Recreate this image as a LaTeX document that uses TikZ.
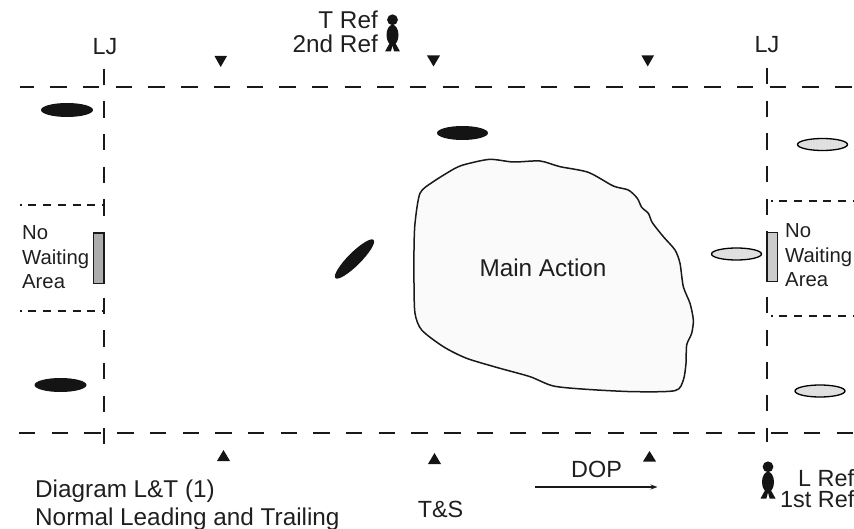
\documentclass[tikz,border=0pt]{standalone}
\usepackage{fontspec}
\setmainfont{Liberation Sans}
\usetikzlibrary{arrows.meta}
\tikzset{
  big/.style={font=\fontsize{24.3}{28}\selectfont,inner sep=0pt,text=black!88,anchor=base west},
  bigr/.style={big,anchor=base east},
  bigc/.style={big,anchor=base},
  mid/.style={font=\fontsize{23.4}{28}\selectfont,inner sep=0pt,text=black!88,anchor=base west},
  midc/.style={mid,anchor=base},
  small/.style={font=\fontsize{20.3}{24}\selectfont,inner sep=0pt,text=black!88,anchor=base west},
  longdash/.style={line width=1.6pt,draw=black!90,dash pattern=on 16.4pt off 16.3pt},
  shortdash/.style={line width=1.5pt,draw=black!90,dash pattern=on 8pt off 6.7pt},
  darkoval/.style={fill=black!92,draw=none},
  greyoval/.style={fill=black!12,draw=black,line width=1.3pt},
  noarea/.style={draw=black!90,line width=1.8pt},
  tri/.style={fill=black!92,draw=none},
  pics/refman/.style={code={
    \fill[black!92] (0,-31.7) circle (5.4);
    \fill[black!92] (0,-16.5) ellipse (6 and 10.2);
    \fill[black!92] (-7.5,0) -- (-2.5,-9) -- (2.5,-9) -- (7.5,0) -- (1.6,0) -- (0,-6) -- (-1.6,0) -- cycle;
  }}
}
\begin{document}
\begin{tikzpicture}[x=1pt,y=-1pt]
\useasboundingbox (0,0) rectangle (854,529);
% boundary lines
\draw[longdash,dash phase=2.4pt] (20,87) -- (854,87);
\draw[longdash,dash phase=0pt,line width=1.5pt] (19,433) -- (854,433);
\draw[longdash] (104,68.7) -- (104,444);
\draw[longdash] (767,68) -- (767,442);
% no waiting lines
\draw[shortdash,dash phase=6.3pt] (20,205) -- (104,205);
\draw[shortdash,dash phase=6.3pt] (20,311) -- (104,311);
\draw[shortdash,dash phase=6.4pt] (771,201) -- (854,201);
\draw[shortdash,dash phase=6.4pt] (771,316) -- (854,316);
% no waiting boxes
\draw[noarea,fill=black!32] (93.5,233) rectangle (104,283.5);
\draw[noarea,fill=black!20] (767,232.5) rectangle (777.5,281.5);
% main action
\begin{scope}[xshift=400pt,yshift=-150pt,x=.33333pt,y=-.33333pt]
\draw[line width=1.5pt,draw=black!90,fill=black!2] plot[smooth cycle,tension=.45] coordinates {
(270,28) (340,36) (420,33) (480,50) (565,67) (640,108) (685,120) (712,145) (725,172) (745,190)
(757,218) (790,260) (825,300) (840,340) (850,410) (870,460) (880,510) (875,550) (860,585) (858,640)
(850,690) (825,722) (700,725) (560,718) (460,708) (390,680) (300,655) (200,625) (130,590) (65,540)
(45,490) (42,400) (42,300) (45,220) (60,130) (100,95) (165,55) (200,42)};
\end{scope}
% players
\fill[darkoval] (67,110) ellipse (26 and 7);
\fill[darkoval] (60.5,385) ellipse (26 and 7);
\fill[darkoval] (462.5,133) ellipse (25.5 and 7);
\fill[darkoval,rotate around={45:(354.5,259)}] (354.5,259) ellipse (27 and 6.5);
\draw[greyoval] (822.5,144.5) ellipse (25 and 6);
\draw[greyoval] (736.5,254) ellipse (25 and 6);
\draw[greyoval] (820,391) ellipse (25 and 6);
% triangles
\fill[tri] (214.5,56) -- (227,56) -- (220.7,67) -- cycle;
\fill[tri] (427,55.5) -- (440,55.5) -- (433.5,66.5) -- cycle;
\fill[tri] (641.5,55.5) -- (654,55.5) -- (647.7,66.5) -- cycle;
\fill[tri] (223.5,450) -- (230,461) -- (217,461) -- cycle;
\fill[tri] (434.5,453) -- (441,464) -- (428,464) -- cycle;
\fill[tri] (649.5,451) -- (656,461.5) -- (643,461.5) -- cycle;
% officials
\pic at (392.5,51.5) {refman};
\pic at (768,498.5) {refman};
% direction of play
\coordinate (dopa) at (535,487);
\coordinate (dopb) at (657.5,487);
\draw[line width=1.2pt,draw=black!90,-{Stealth[length=7pt,width=5pt,open,fill=white]}] (dopa) -- (dopb);
% labels
\node[midc] (lja) at (105,55) {LJ};
\node[midc] (ljb) at (767,53) {LJ};
\node[bigr] (tref) at (378,29) {T Ref};
\node[bigr] (sref) at (378,53) {2nd Ref};
\node[bigc] (main) at (543,277) {Main Action};
\node[midc] (dop) at (596.5,477) {DOP};
\node[midc] (ts) at (440.5,517) {T\&S};
\node[big] (cap) at (35,497) {Diagram L\&T (1)};
\node[big] (capb) at (35,525) {Normal Leading and Trailing};
\node[mid] (lref) at (798,486) {L Ref};
\node[mid] (fref) at (780,507) {1st Ref};
\node[small] (na) at (22,240) {No};
\node[small] (nb) at (22,265) {Waiting};
\node[small] (nc) at (22,289) {Area};
\node[small] (ra) at (785,238) {No};
\node[small] (rb) at (785,263) {Waiting};
\node[small] (rc) at (785,287) {Area};
\end{tikzpicture}
\end{document}
